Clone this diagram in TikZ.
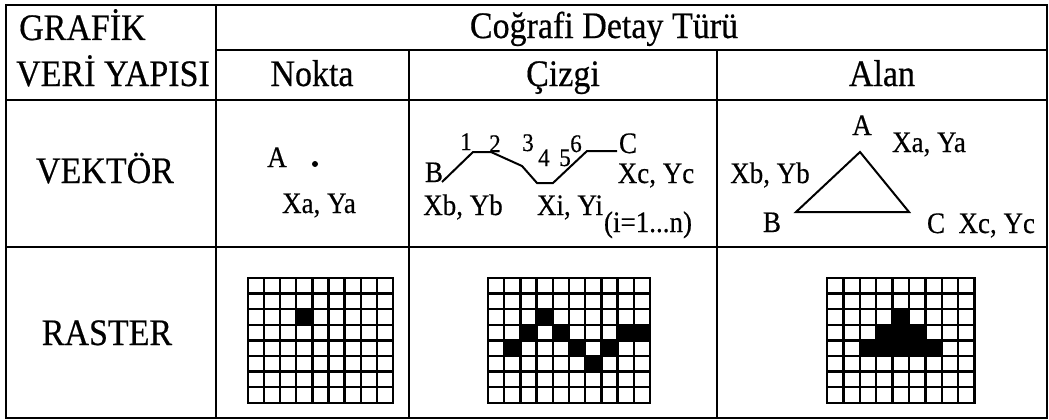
\documentclass[tikz,border=0pt]{standalone}
\usepackage{fontspec}
\setmainfont{Liberation Serif}[FakeBold=0.5]
\newcommand\tall[1]{\scalebox{1}[1.1]{#1}}
\tikzset{
  big/.style={inner sep=0pt, font=\fontsize{34}{38}\selectfont, anchor=base},
  lbl/.style={inner sep=0pt, font=\fontsize{27}{30}\selectfont, anchor=base},
  num/.style={inner sep=0pt, font=\fontsize{23}{26}\selectfont, anchor=base},
  tablerule/.style={line width=2pt},
  gridline/.style={line width=2.3pt, line cap=rect},
  shapeline/.style={line width=2pt, line join=miter},
}
\newcommand\rastergrid[6]{%
  \foreach \i in {0,...,#3} \draw[gridline] ({#1+\i*#5},#2) -- ({#1+\i*#5},{#2+#4*#6});
  \foreach \j in {0,...,#4} \draw[gridline] (#1,{#2+\j*#6}) -- ({#1+#3*#5},{#2+\j*#6});
}
\newcommand\rcell[6]{\fill ({#1+#3*#5},{#2+#4*#6}) rectangle ++(#5,#6);}
\begin{document}
\begin{tikzpicture}[x=1pt,y=-1pt]
\useasboundingbox (0,0) rectangle (1049,420);
% table rules
\draw[tablerule] (6,5) rectangle (1047,418);
\draw[tablerule] (216,5) -- (216,418);
\draw[tablerule] (216,50) -- (1047,50);
\draw[tablerule] (6,100) -- (1047,100);
\draw[tablerule] (6,247) -- (1047,247);
\draw[tablerule] (409,50) -- (409,418);
\draw[tablerule] (717,50) -- (717,418);
% headers
\node[big, anchor=base west] (h1) at (19,40) {\tall{GRAFİK}};
\node[big, anchor=base west] (h2) at (16,86) {\tall{VERİ YAPISI}};
\node[big] (h3) at (604,38) {\tall{Coğrafi Detay Türü}};
\node[big] (h4) at (312,86) {\tall{Nokta}};
\node[big] (h5) at (563,86) {\tall{Çizgi}};
\node[big] (h6) at (882,86) {\tall{Alan}};
\node[big] (r1) at (105,183) {\tall{VEKTÖR}};
\node[big] (r2) at (107,345) {\tall{RASTER}};
% Nokta vector
\node[lbl] (pA) at (277,167) {\tall{A}};
\node[circle, fill, inner sep=0pt, minimum size=6pt] (pdot) at (315,164) {};
\node[lbl] (pXY) at (319,213) {\tall{Xa, Ya}};
% Cizgi vector
\node[lbl] (lB) at (434,182) {\tall{B}};
\draw[shapeline] (442,182) -- (473,152) -- (491,152) -- (522,166) -- (537,183) -- (553,183) -- (587,151) -- (617,151);
\node[num] (n1) at (466,150) {\tall{1}};
\node[num] (n2) at (495,152) {\tall{2}};
\node[num] (n3) at (528,151) {\tall{3}};
\node[num] (n4) at (544,166) {\tall{4}};
\node[num] (n5) at (565,166) {\tall{5}};
\node[num] (n6) at (576,152) {\tall{6}};
\node[lbl] (lC) at (628,153) {\tall{C}};
\node[lbl] (lXc) at (656,183) {\tall{Xc, Yc}};
\node[lbl] (lXb) at (463,215) {\tall{Xb, Yb}};
\node[lbl] (lXi) at (570,215) {\tall{Xi, Yi}};
\node[lbl] (lsub) at (648,232) {\tall{(i=1...n)}};
% Alan vector
\node[lbl] (aA) at (862,135) {\tall{A}};
\node[lbl] (aXa) at (929,152) {\tall{Xa, Ya}};
\draw[shapeline] (860,152) -- (909,212) -- (796,212) -- cycle;
\node[lbl] (aXb) at (770,183) {\tall{Xb, Yb}};
\node[lbl] (aB) at (772,232) {\tall{B}};
\node[lbl] (aC) at (981,233) {\tall{C\ \ Xc, Yc}};
% raster grids
\rastergrid{248}{278}{9}{8}{16.1}{15.6}
\rcell{248}{278}{3}{2}{16.1}{15.6}
\rastergrid{488}{278}{10}{8}{16.2}{15.6}
\rcell{488}{278}{3}{2}{16.2}{15.6}
\rcell{488}{278}{2}{3}{16.2}{15.6}
\rcell{488}{278}{4}{3}{16.2}{15.6}
\rcell{488}{278}{8}{3}{16.2}{15.6}
\rcell{488}{278}{9}{3}{16.2}{15.6}
\rcell{488}{278}{1}{4}{16.2}{15.6}
\rcell{488}{278}{5}{4}{16.2}{15.6}
\rcell{488}{278}{7}{4}{16.2}{15.6}
\rcell{488}{278}{6}{5}{16.2}{15.6}
\rastergrid{827}{278}{9}{8}{16.4}{15.6}
\rcell{827}{278}{4}{2}{16.4}{15.6}
\rcell{827}{278}{3}{3}{16.4}{15.6}
\rcell{827}{278}{4}{3}{16.4}{15.6}
\rcell{827}{278}{5}{3}{16.4}{15.6}
\rcell{827}{278}{2}{4}{16.4}{15.6}
\rcell{827}{278}{3}{4}{16.4}{15.6}
\rcell{827}{278}{4}{4}{16.4}{15.6}
\rcell{827}{278}{5}{4}{16.4}{15.6}
\rcell{827}{278}{6}{4}{16.4}{15.6}
\end{tikzpicture}
\end{document}
